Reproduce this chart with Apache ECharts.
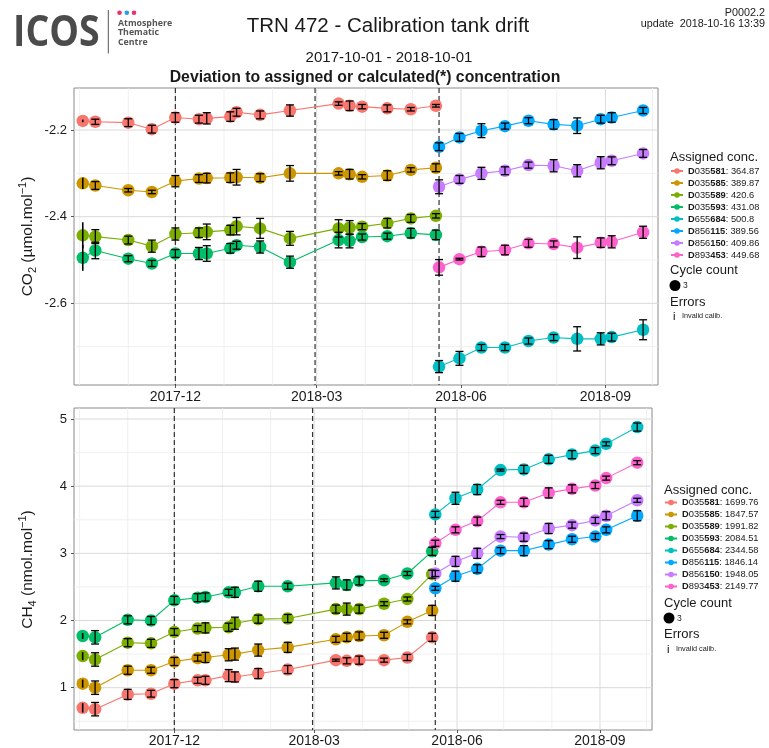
<!DOCTYPE html>
<html>
<head>
<meta charset="utf-8">
<title>TRN 472 - Calibration tank drift</title>
<script src="https://cdn.jsdelivr.net/npm/echarts@6/dist/echarts.min.js"></script>
<style>
  html, body { margin: 0; padding: 0; background: #ffffff; }
  #chart { width: 769px; height: 748px; }
</style>
</head>
<body>
<div id="chart"></div>
<script>
// ---- tanks -------------------------------------------------------------
const tankIds = ['D035581', 'D035585', 'D035589', 'D035593', 'D655684', 'D856115', 'D856150', 'D893453'];
const tankColors = ['#F8766D', '#CD9600', '#7CAE00', '#00BE67', '#00BFC4', '#00A9FF', '#C77CFF', '#FF61CC'];
const co2Assigned = ['364.87', '389.87', '420.6', '431.08', '500.8', '389.56', '409.86', '449.68'];
const ch4Assigned = ['1699.76', '1847.57', '1991.82', '2084.51', '2344.58', '1846.14', '1948.05', '2149.77'];

// measurement dates: first set of tanks, then the replacement set
const datesA = ['2017-10-03', '2017-10-11', '2017-11-01', '2017-11-16', '2017-12-01', '2017-12-16', '2017-12-21',
  '2018-01-05', '2018-01-09', '2018-01-24', '2018-02-12', '2018-03-15', '2018-03-22', '2018-03-30',
  '2018-04-15', '2018-04-30', '2018-05-16'];
const datesB = ['2018-05-18', '2018-05-31', '2018-06-14', '2018-06-29', '2018-07-14', '2018-07-30',
  '2018-08-14', '2018-08-29', '2018-09-05', '2018-09-25'];
// calibrations flagged invalid (error drawn as a plain range)
const invalidDates = ['2017-10-03'];
// instrument changes
const eventDates = ['2017-12-01', '2018-02-28', '2018-05-18'];

// ---- CO2 deviation (µmol/mol) and error -----------------------------------
const co2D035581 = [-2.179, -2.181, -2.183, -2.198, -2.171, -2.175, -2.173, -2.169, -2.159, -2.165, -2.155, -2.139, -2.144, -2.146, -2.150, -2.152, -2.144];
const co2D035581Err = [0.003, 0.006, 0.009, 0.009, 0.011, 0.009, 0.013, 0.011, 0.009, 0.009, 0.013, 0.004, 0.011, 0.005, 0.008, 0.004, 0.003];
const co2D035585 = [-2.323, -2.328, -2.339, -2.343, -2.318, -2.312, -2.311, -2.310, -2.309, -2.310, -2.300, -2.300, -2.302, -2.308, -2.305, -2.292, -2.287];
const co2D035585Err = [0.013, 0.009, 0.004, 0.004, 0.013, 0.009, 0.011, 0.011, 0.018, 0.009, 0.018, 0.004, 0.011, 0.005, 0.011, 0.005, 0.009];
const co2D035589 = [-2.443, -2.446, -2.454, -2.468, -2.440, -2.437, -2.435, -2.431, -2.422, -2.427, -2.450, -2.427, -2.425, -2.423, -2.415, -2.404, -2.398];
const co2D035589Err = [0.030, 0.016, 0.009, 0.014, 0.014, 0.011, 0.018, 0.011, 0.020, 0.023, 0.016, 0.020, 0.016, 0.007, 0.011, 0.009, 0.005];
const co2D035593 = [-2.495, -2.478, -2.497, -2.508, -2.485, -2.485, -2.485, -2.473, -2.466, -2.470, -2.505, -2.454, -2.456, -2.447, -2.445, -2.438, -2.442];
const co2D035593Err = [0.030, 0.019, 0.007, 0.007, 0.009, 0.014, 0.018, 0.011, 0.009, 0.014, 0.014, 0.018, 0.016, 0.007, 0.007, 0.011, 0.011];
const co2D655684 = [-2.746, -2.727, -2.702, -2.702, -2.687, -2.679, -2.682, -2.682, -2.678, -2.661];
const co2D655684Err = [0.014, 0.016, 0.007, 0.007, 0.007, 0.007, 0.028, 0.014, 0.009, 0.023];
const co2D856115 = [-2.2385, -2.217, -2.2015, -2.191, -2.1785, -2.187, -2.190, -2.175, -2.171, -2.155];
const co2D856115Err = [0.009, 0.009, 0.016, 0.007, 0.007, 0.011, 0.018, 0.009, 0.011, 0.007];
const co2D856150 = [-2.331, -2.314, -2.300, -2.294, -2.281, -2.2825, -2.294, -2.2755, -2.271, -2.254];
const co2D856150Err = [0.016, 0.009, 0.014, 0.009, 0.007, 0.014, 0.014, 0.014, 0.009, 0.009];
const co2D893453 = [-2.517, -2.498, -2.481, -2.477, -2.4615, -2.463, -2.4715, -2.460, -2.458, -2.436];
const co2D893453Err = [0.018, 0.002, 0.011, 0.011, 0.009, 0.007, 0.025, 0.011, 0.014, 0.014];

// ---- CH4 deviation (nmol/mol) and error -----------------------------------
const ch4D035581 = [0.70, 0.68, 0.90, 0.91, 1.06, 1.11, 1.11, 1.18, 1.16, 1.21, 1.27, 1.41, 1.40, 1.41, 1.41, 1.45, 1.75];
const ch4D035581Err = [0.07, 0.10, 0.075, 0.05, 0.06, 0.045, 0.06, 0.09, 0.075, 0.075, 0.06, 0.015, 0.045, 0.06, 0.03, 0.045, 0.06];
const ch4D035585 = [1.06, 1.00, 1.26, 1.26, 1.39, 1.44, 1.45, 1.49, 1.50, 1.56, 1.60, 1.72, 1.75, 1.77, 1.78, 1.98, 2.15];
const ch4D035585Err = [0.06, 0.10, 0.06, 0.045, 0.06, 0.045, 0.075, 0.09, 0.09, 0.09, 0.075, 0.045, 0.06, 0.06, 0.045, 0.03, 0.075];
const ch4D035589 = [1.47, 1.42, 1.67, 1.66, 1.83, 1.88, 1.89, 1.90, 1.96, 2.02, 2.03, 2.17, 2.17, 2.17, 2.25, 2.32, 2.69];
const ch4D035589Err = [0.06, 0.10, 0.06, 0.06, 0.05, 0.045, 0.075, 0.06, 0.09, 0.06, 0.06, 0.06, 0.09, 0.06, 0.03, 0.03, 0.06];
const ch4D035593 = [1.77, 1.75, 2.01, 2.00, 2.30, 2.34, 2.35, 2.42, 2.42, 2.51, 2.51, 2.56, 2.53, 2.59, 2.60, 2.70, 3.03];
const ch4D035593Err = [0.045, 0.10, 0.06, 0.06, 0.06, 0.06, 0.06, 0.045, 0.075, 0.075, 0.045, 0.09, 0.075, 0.06, 0.02, 0.03, 0.06];
const ch4D655684 = [3.58, 3.82, 3.95, 4.24, 4.25, 4.40, 4.47, 4.53, 4.63, 4.88];
const ch4D655684Err = [0.045, 0.09, 0.075, 0.015, 0.06, 0.06, 0.06, 0.045, 0.03, 0.06];
const ch4D856115 = [2.48, 2.66, 2.77, 3.04, 3.04, 3.13, 3.21, 3.25, 3.35, 3.56];
const ch4D856115Err = [0.03, 0.075, 0.06, 0.045, 0.075, 0.06, 0.045, 0.045, 0.045, 0.075];
const ch4D856150 = [2.70, 2.88, 3.00, 3.25, 3.24, 3.37, 3.42, 3.49, 3.56, 3.79];
const ch4D856150Err = [0.045, 0.075, 0.075, 0.03, 0.06, 0.075, 0.045, 0.045, 0.06, 0.03];
const ch4D893453 = [3.15, 3.35, 3.48, 3.76, 3.76, 3.90, 3.96, 4.01, 4.12, 4.35];
const ch4D893453Err = [0.045, 0.045, 0.06, 0.03, 0.06, 0.075, 0.06, 0.045, 0.03, 0.03];

// ---- axes -----------------------------------------------------------------
const xRange = ['2017-09-27T10:00:00Z', '2018-10-04T12:00:00Z'];
const xTickDates = ['2017-12-01', '2018-03-01', '2018-06-01', '2018-09-01'];
const xGridDates = ['2017-10-01', '2017-11-01', '2017-12-01', '2018-01-01', '2018-02-01', '2018-03-01', '2018-04-01',
  '2018-05-01', '2018-06-01', '2018-07-01', '2018-08-01', '2018-09-01', '2018-10-01'];
const co2Range = [-2.7885, -2.103];
const co2Ticks = [-2.6, -2.4, -2.2];
const co2MinorTicks = [-2.7, -2.5, -2.3];
const ch4Range = [0.37, 5.164];
const ch4Ticks = [1, 2, 3, 4, 5];
const ch4MinorTicks = [0.5, 1.5, 2.5, 3.5, 4.5];

// ---------------------------------------------------------------------------
const ts = s => Date.parse(s.length === 10 ? s + 'T00:00:00Z' : s);
const pad2 = n => (n < 10 ? '0' : '') + n;
const FONT = '"Liberation Sans", Arial, Helvetica, sans-serif';

const co2Values = [co2D035581, co2D035585, co2D035589, co2D035593, co2D655684, co2D856115, co2D856150, co2D893453];
const co2Errors = [co2D035581Err, co2D035585Err, co2D035589Err, co2D035593Err, co2D655684Err, co2D856115Err, co2D856150Err, co2D893453Err];
const ch4Values = [ch4D035581, ch4D035585, ch4D035589, ch4D035593, ch4D655684, ch4D856115, ch4D856150, ch4D893453];
const ch4Errors = [ch4D035581Err, ch4D035585Err, ch4D035589Err, ch4D035593Err, ch4D655684Err, ch4D856115Err, ch4D856150Err, ch4D893453Err];

const panels = [
  { values: co2Values, errors: co2Errors, assigned: co2Assigned, range: co2Range, ticks: co2Ticks, minor: co2MinorTicks,
    grid: { left: 74, top: 88, width: 584, height: 297 }, labelMargin: 5, legendLeft: 670, legendTop: 166,
    name: '{n|CO}{sub|2}{n| (µmol.mol}{sup|−1}{n|)}', fmt: v => v.toFixed(1) },
  { values: ch4Values, errors: ch4Errors, assigned: ch4Assigned, range: ch4Range, ticks: ch4Ticks, minor: ch4MinorTicks,
    grid: { left: 74, top: 408, width: 578, height: 322.5 }, labelMargin: 4, legendLeft: 664, legendTop: 497.5,
    name: '{n|CH}{sub|4}{n| (nmol.mol}{sup|−1}{n|)}', fmt: v => String(v) }
];

// vertical line across the whole panel at a date
function vLine(style) {
  return function (params, api) {
    const cs = params.coordSys;
    const x = api.coord([api.value(0), api.value(1)])[0];
    return { type: 'line', shape: { x1: x, y1: cs.y, x2: x, y2: cs.y + cs.height }, style: Object.assign({}, style), silent: true };
  };
}
// horizontal line across the whole panel at a value
function hLine(style) {
  return function (params, api) {
    const cs = params.coordSys;
    const y = api.coord([api.value(0), api.value(1)])[1];
    return { type: 'line', shape: { x1: cs.x, y1: y, x2: cs.x + cs.width, y2: y }, style: Object.assign({}, style), silent: true };
  };
}
// error bar: value ± err, caps unless the calibration was invalid
function errorBar(params, api) {
  const x = api.value(0), v = api.value(1), e = api.value(2), invalid = api.value(3);
  const lo = api.coord([x, v - e]);
  const hi = api.coord([x, v + e]);
  const st = { stroke: '#000000', lineWidth: invalid ? 1.6 : 1.3, fill: null };
  const kids = [{ type: 'line', shape: { x1: lo[0], y1: lo[1], x2: hi[0], y2: hi[1] }, style: st }];
  if (!invalid) {
    const w = 4;
    kids.push({ type: 'line', shape: { x1: lo[0] - w, y1: lo[1], x2: lo[0] + w, y2: lo[1] }, style: st });
    kids.push({ type: 'line', shape: { x1: hi[0] - w, y1: hi[1], x2: hi[0] + w, y2: hi[1] }, style: st });
  }
  return { type: 'group', children: kids };
}

const grids = [], xAxes = [], yAxes = [], series = [], legends = [];
const minX = ts(xRange[0]);

panels.forEach((p, pi) => {
  grids.push(Object.assign({ show: true, borderColor: '#8a8a8a', borderWidth: 1, backgroundColor: '#ffffff' }, p.grid));
  // dates are carried as UTC milliseconds on a linear axis
  xAxes.push({
    type: 'value', gridIndex: pi, min: ts(xRange[0]), max: ts(xRange[1]),
    axisLine: { show: false },
    splitLine: { show: false },
    axisTick: { show: true, length: 3, lineStyle: { color: '#555555', width: 1 }, customValues: xTickDates.map(ts) },
    axisLabel: {
      customValues: xTickDates.map(ts), color: '#1a1a1a', fontSize: 14, fontFamily: FONT, margin: p.labelMargin,
      formatter: v => { const d = new Date(v); return d.getUTCFullYear() + '-' + pad2(d.getUTCMonth() + 1); }
    }
  });
  yAxes.push({
    type: 'value', gridIndex: pi, min: p.range[0], max: p.range[1],
    axisLine: { show: false },
    splitLine: { show: false },
    axisTick: { show: true, length: 3, lineStyle: { color: '#555555', width: 1 }, customValues: p.ticks },
    axisLabel: { customValues: p.ticks, color: '#1a1a1a', fontSize: 13, fontFamily: FONT, margin: 7, formatter: p.fmt }
  });

  // background grid
  series.push({
    type: 'custom', xAxisIndex: pi, yAxisIndex: pi, z: 0, silent: true,
    renderItem: vLine({ stroke: '#ececec', lineWidth: 0.8 }),
    data: xGridDates.filter(d => xTickDates.indexOf(d) < 0).map(d => [ts(d), p.ticks[0]])
  });
  series.push({
    type: 'custom', xAxisIndex: pi, yAxisIndex: pi, z: 0, silent: true,
    renderItem: vLine({ stroke: '#dadada', lineWidth: 1 }),
    data: xTickDates.map(d => [ts(d), p.ticks[0]])
  });
  series.push({
    type: 'custom', xAxisIndex: pi, yAxisIndex: pi, z: 0, silent: true,
    renderItem: hLine({ stroke: '#ececec', lineWidth: 0.8 }),
    data: p.minor.map(v => [minX, v])
  });
  series.push({
    type: 'custom', xAxisIndex: pi, yAxisIndex: pi, z: 0, silent: true,
    renderItem: hLine({ stroke: '#dadada', lineWidth: 1 }),
    data: p.ticks.map(v => [minX, v])
  });
  // instrument change markers
  series.push({
    type: 'custom', xAxisIndex: pi, yAxisIndex: pi, z: 1, silent: true,
    renderItem: vLine({ stroke: '#333333', lineWidth: 1.2, lineDash: [5, 3] }),
    data: eventDates.map(d => [ts(d), p.ticks[0]])
  });

  const names = [];
  tankIds.forEach((id, i) => {
    const dates = i < 4 ? datesA : datesB;
    const vals = p.values[i], errs = p.errors[i];
    const name = id + ': ' + p.assigned[i];
    names.push(name);
    series.push({
      type: 'line', name: name, xAxisIndex: pi, yAxisIndex: pi, z: 3,
      data: dates.map((d, k) => [ts(d), vals[k]]),
      symbol: 'circle', symbolSize: 12.5, showSymbol: true,
      itemStyle: { color: tankColors[i] },
      lineStyle: { color: tankColors[i], width: 1.1 },
      emphasis: { disabled: true }, animation: false
    });
    series.push({
      type: 'custom', name: name, xAxisIndex: pi, yAxisIndex: pi, z: 4, silent: true,
      renderItem: errorBar,
      data: dates.map((d, k) => [ts(d), vals[k], errs[k], invalidDates.indexOf(d) >= 0 ? 1 : 0])
    });
  });

  legends.push({
    show: true, data: names, orient: 'vertical', padding: 0,
    left: p.legendLeft, top: p.legendTop,
    itemWidth: 12, itemHeight: 7, itemGap: 2, selectedMode: false,
    textStyle: {
      fontFamily: FONT, fontSize: 9.3, color: '#1a1a1a', lineHeight: 10,
      rich: {
        b: { fontWeight: 'bold', fontSize: 9.3, fontFamily: FONT, color: '#1a1a1a', lineHeight: 10 },
        r: { fontSize: 9.3, fontFamily: FONT, color: '#1a1a1a', lineHeight: 10 }
      }
    },
    formatter: nm => {
      const parts = nm.split(': ');
      const id = parts[0];
      return '{b|' + id.slice(0, 1) + '}{r|' + id.slice(1, 4) + '}{b|' + id.slice(4) + '}{r|: ' + parts[1] + '}';
    }
  });
});

// ---- page furniture --------------------------------------------------------
function txt(x, y, s, size, opts, scaleX) {
  return {
    type: 'text', x: x, y: y, silent: true, scaleX: scaleX || 1,
    style: Object.assign({ text: s, fontSize: size, fontFamily: FONT, fill: '#1a1a1a', textVerticalAlign: 'middle' }, opts || {})
  };
}
// rotated axis title with sub/superscripts
function axisTitle(x, y, s) {
  return {
    type: 'text', x: x, y: y, rotation: Math.PI / 2, silent: true,
    style: {
      text: s, textAlign: 'center', textVerticalAlign: 'middle', fontFamily: FONT, fill: '#1a1a1a',
      rich: {
        n: { fontSize: 15.5, fill: '#1a1a1a', fontFamily: FONT, lineHeight: 21, verticalAlign: 'middle' },
        sub: { fontSize: 11, fill: '#1a1a1a', fontFamily: FONT, lineHeight: 11, verticalAlign: 'bottom' },
        sup: { fontSize: 11, fill: '#1a1a1a', fontFamily: FONT, lineHeight: 11, verticalAlign: 'top' }
      }
    }
  };
}
function legendExtras(x0, yTitle, yCycle, yErr, yInv) {
  return [
    txt(x0, yTitle, 'Assigned conc.', 13),
    txt(x0, yCycle, 'Cycle count', 13),
    { type: 'circle', shape: { cx: x0 + 5, cy: yCycle + 15, r: 5.5 }, style: { fill: '#000000' }, silent: true },
    txt(x0 + 13, yCycle + 15.5, '3', 8.5),
    txt(x0, yErr, 'Errors', 13),
    txt(x0 + 3, yInv, 'i', 11, { fill: '#000000' }),
    txt(x0 + 12, yInv - 1, 'Invalid calib.', 7.3)
  ];
}

const logoFont = '"Open Sans", ' + FONT;
const graphics = [
  // logo
  txt(13, 34, 'ICOS', 43, { fontWeight: 'bold', fontFamily: logoFont, fill: '#4b4b4b' }, 0.87),
  { type: 'line', shape: { x1: 108.3, y1: 10, x2: 108.3, y2: 53.5 }, style: { stroke: '#555555', lineWidth: 1 }, silent: true },
  { type: 'circle', shape: { cx: 119.5, cy: 12.8, r: 2.3 }, style: { fill: '#e6336e' }, silent: true },
  { type: 'circle', shape: { cx: 126.8, cy: 12.8, r: 2.3 }, style: { fill: '#2a9fe0' }, silent: true },
  { type: 'circle', shape: { cx: 134, cy: 12.8, r: 2.3 }, style: { fill: '#e6336e' }, silent: true },
  txt(118, 23.2, 'Atmosphere', 8.8, { fontWeight: 'bold', fill: '#555555', fontFamily: logoFont }),
  txt(118, 32.6, 'Thematic', 8.8, { fontWeight: 'bold', fill: '#555555', fontFamily: logoFont }),
  txt(118, 42, 'Centre', 8.8, { fontWeight: 'bold', fill: '#555555', fontFamily: logoFont }),
  // titles
  txt(388, 26, 'TRN 472 - Calibration tank drift', 20.5, { textAlign: 'center' }),
  txt(389, 57.5, '2017-10-01 - 2018-10-01', 15, { textAlign: 'center' }),
  txt(365, 78, 'Deviation to assigned or calculated(*) concentration', 15.8, { textAlign: 'center', fontWeight: 'bold' }),
  txt(765, 13, 'P0002.2', 10.8, { textAlign: 'right' }),
  txt(765, 24.5, 'update  2018-10-16 13:39', 10.8, { textAlign: 'right' }),
  // axis titles
  axisTitle(27.5, 236.5, panels[0].name),
  axisTitle(27.5, 569.5, panels[1].name)
].concat(legendExtras(670, 157, 270.5, 302, 316.5))
 .concat(legendExtras(664, 490, 603, 634, 650));

const chart = echarts.init(document.getElementById('chart'), null, { renderer: 'canvas' });
chart.setOption({
  animation: false,
  backgroundColor: '#ffffff',
  textStyle: { fontFamily: FONT },
  grid: grids,
  xAxis: xAxes,
  yAxis: yAxes,
  legend: legends,
  series: series,
  graphic: { elements: graphics }
});
</script>
</body>
</html>
